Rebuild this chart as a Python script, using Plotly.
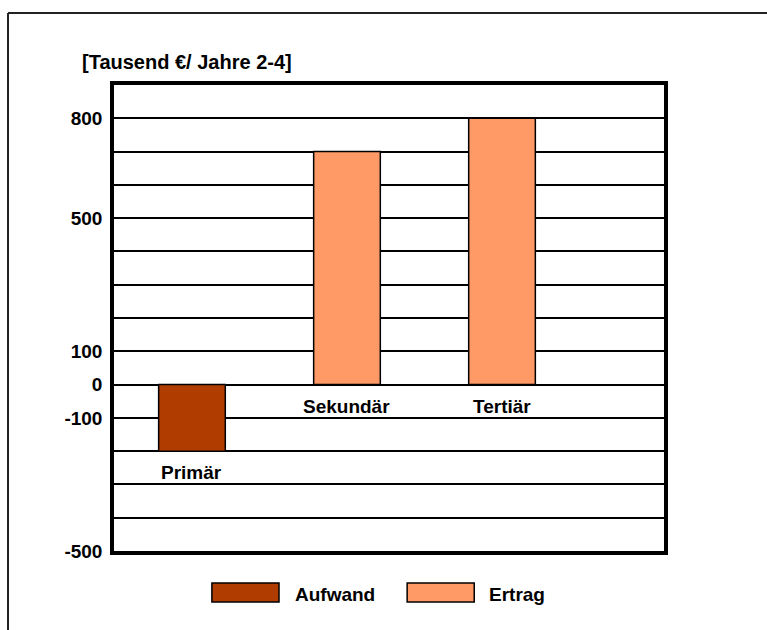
import plotly.graph_objects as go

# Categories and values (Tausend €, Jahre 2-4)
categories = ["Primär", "Sekundär", "Tertiär"]
aufwand_cats = ["Primär"]
aufwand_vals = [-200]
ertrag_cats = ["Sekundär", "Tertiär"]
ertrag_vals = [700, 800]
series_names = ["Aufwand", "Ertrag"]
tick_vals = [800, 500, 100, 0, -100, -500]
tick_text = ["800", "500", "100", "0", "-100", "-500"]
unit_label = "[Tausend €/ Jahre 2-4]"

dark = "#B03C00"
light = "#FF9966"
FONT = "Liberation Sans, Arial, sans-serif"

fig = go.Figure()
fig.add_trace(go.Bar(x=aufwand_cats, y=aufwand_vals, name=series_names[0],
                     marker=dict(color=dark, line=dict(color="black", width=1.5)),
                     width=0.43, showlegend=False))
fig.add_trace(go.Bar(x=ertrag_cats, y=ertrag_vals, name=series_names[1],
                     marker=dict(color=light, line=dict(color="black", width=1.5)),
                     width=0.43, showlegend=False))

# Category labels sit just below the zero line or the bar bottom
values = dict(zip(aufwand_cats, aufwand_vals))
values.update(dict(zip(ertrag_cats, ertrag_vals)))
for cat in categories:
    v = values[cat]
    fig.add_annotation(x=cat, y=min(v, 0), xref="x", yref="y", text=f"<b>{cat}</b>",
                       showarrow=False, yanchor="top", yshift=-9,
                       font=dict(family=FONT, size=19, color="black"))

# Unit label above the plot
fig.add_annotation(x=-0.062, y=1.0494, xref="paper", yref="paper", xanchor="left", yanchor="middle",
                   text=f"<b>{unit_label}</b>", showarrow=False,
                   font=dict(family=FONT, size=20, color="black"))

# Legend drawn as swatches with labels
legend_items = [(series_names[0], dark, 0.178, 0.300, 0.3255),
                (series_names[1], light, 0.533, 0.655, 0.6782)]
for name, col, x0, x1, xt in legend_items:
    fig.add_shape(type="rect", xref="paper", yref="paper", x0=x0, x1=x1, y0=-0.1094, y1=-0.0687,
                  fillcolor=col, line=dict(color="black", width=1.5))
    fig.add_annotation(x=xt, y=-0.0923, xref="paper", yref="paper", xanchor="left", yanchor="middle",
                       text=f"<b>{name}</b>", showarrow=False,
                       font=dict(family=FONT, size=19, color="black"))

# Outer frame (left and top edges)
fig.add_shape(type="line", xref="paper", yref="paper", x0=-0.1927, x1=1.3, y0=1.1545, y1=1.1545,
              line=dict(color="#222", width=2))
fig.add_shape(type="line", xref="paper", yref="paper", x0=-0.1927, x1=-0.1927, y0=1.1545, y1=-0.25,
              line=dict(color="#222", width=2))

fig.update_layout(
    width=767, height=630,
    margin=dict(l=114, r=103, t=85, b=79),
    paper_bgcolor="white", plot_bgcolor="white",
    barmode="relative",
    font=dict(family=FONT, color="black"),
    xaxis=dict(type="category", categoryorder="array", categoryarray=categories,
               range=[-0.503, 3.045], showticklabels=False, showgrid=False,
               showline=True, linecolor="black", linewidth=3.5, mirror=True, zeroline=False,
               ticks=""),
    yaxis=dict(range=[-500, 900], tickvals=tick_vals, ticktext=tick_text,
               tickfont=dict(family=FONT, size=19, color="black", weight="bold"),
               ticks="", ticklabelstandoff=4,
               showgrid=True, gridcolor="black", gridwidth=2,
               minor=dict(dtick=100, tick0=0, showgrid=True, gridcolor="black", gridwidth=2),
               zeroline=True, zerolinecolor="black", zerolinewidth=2,
               showline=True, linecolor="black", linewidth=3.5, mirror=True),
)

fig.write_html("out.html")
